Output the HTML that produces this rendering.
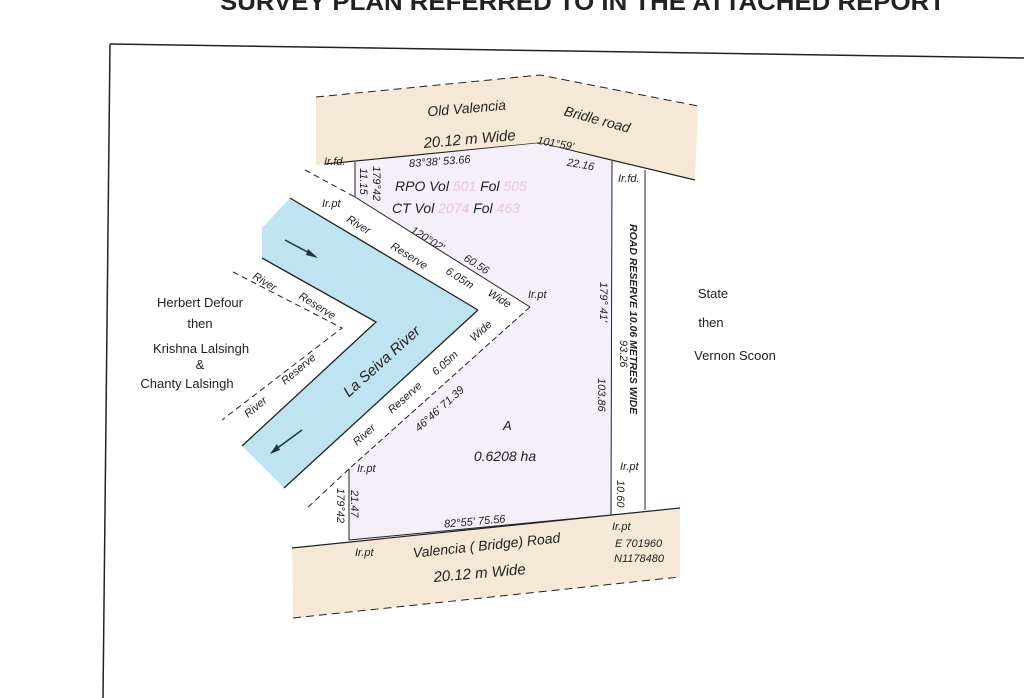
<!DOCTYPE html>
<html><head><meta charset="utf-8"><style>
html,body{margin:0;padding:0;background:#fff;}
svg{display:block;}
text{font-family:"Liberation Sans",sans-serif;font-style:italic;fill:#222;}
text.n{font-style:normal;}
</style></head><body>
<svg width="1024" height="698" viewBox="0 0 1024 698" xmlns="http://www.w3.org/2000/svg">
<rect width="1024" height="698" fill="#fff"/>
<text class="n" x="220" y="10" font-size="24" font-weight="bold" textLength="725" lengthAdjust="spacingAndGlyphs" fill="#111">SURVEY PLAN REFERRED TO IN THE ATTACHED REPORT</text>
<!-- frame -->
<line x1="110" y1="44" x2="1024" y2="58" stroke="#222" stroke-width="1.5"/>
<line x1="110" y1="44" x2="103" y2="698" stroke="#222" stroke-width="1.5"/>

<!-- top road -->
<polygon points="316,97 540,75 698,106 695,180 540,143 316,165" fill="#f6e8d6"/>
<polyline points="316,97 540,75 698,106" fill="none" stroke="#222" stroke-dasharray="8,5"/>
<polyline points="325,164 540,143 695,180" fill="none" stroke="#222" stroke-width="1.2"/>
<!-- bottom road -->
<polygon points="292,548 680,508 680,577 293,618" fill="#f6e8d6"/>
<line x1="292" y1="548" x2="680" y2="508" stroke="#222" stroke-width="1.2"/>
<line x1="293" y1="618" x2="680" y2="577" stroke="#222" stroke-dasharray="8,5"/>

<!-- parcel -->
<polygon points="355,162 540,143 612,161 611,515 349,540 349,469 530,307 355,197" fill="#f4eff8"/>
<polyline points="355,162 355,197" stroke="#222" fill="none"/>
<line x1="612" y1="161" x2="611" y2="515" stroke="#222"/>
<line x1="349" y1="469" x2="349" y2="540" stroke="#222"/>
<line x1="349" y1="540" x2="611" y2="515" stroke="#222"/>
<line x1="645" y1="170" x2="645" y2="510" stroke="#222"/>

<!-- river -->
<polygon points="290,198 478,310 284,488 242,446 376,322 262,258 262,228" fill="#bfe3f0"/>
<line x1="290" y1="198" x2="478" y2="310" stroke="#222" stroke-width="1.3"/>
<polyline points="262,258 376,322 242,446" fill="none" stroke="#222" stroke-width="1.3"/>
<line x1="478" y1="310" x2="284" y2="488" stroke="#222" stroke-width="1.3"/>
<line x1="285" y1="240" x2="315" y2="256" stroke="#234" stroke-width="1.5"/>
<polygon points="318,258 308,249 306,255" fill="#234"/>
<line x1="302" y1="430" x2="272" y2="452" stroke="#234" stroke-width="1.5"/>
<polygon points="270,454 277,444 280,450" fill="#234"/>
<!-- reserve lines -->
<line x1="305" y1="170" x2="355" y2="197" stroke="#222" stroke-dasharray="6,4"/>
<line x1="355" y1="197" x2="530" y2="307" stroke="#222"/>
<line x1="530" y1="307" x2="349" y2="469" stroke="#222" stroke-dasharray="6,3"/>
<line x1="349" y1="469" x2="305" y2="510" stroke="#222" stroke-dasharray="6,4"/>
<polyline points="233,272 342,328 222,420" fill="none" stroke="#222" stroke-dasharray="6,4"/>

<g font-size="13">
<text class="n" x="200" y="307" text-anchor="middle">Herbert Defour</text>
<text class="n" x="200" y="328" text-anchor="middle">then</text>
<text class="n" x="201" y="353" text-anchor="middle">Krishna Lalsingh</text>
<text class="n" x="200" y="369" text-anchor="middle">&amp;</text>
<text class="n" x="187" y="388" text-anchor="middle">Chanty Lalsingh</text>
<text class="n" x="713" y="298" text-anchor="middle">State</text>
<text class="n" x="711" y="327" text-anchor="middle">then</text>
<text class="n" x="735" y="360" text-anchor="middle">Vernon Scoon</text>

<text transform="translate(467,113) rotate(-5)" text-anchor="middle" font-size="14">Old Valencia</text>
<text transform="translate(470,144) rotate(-5)" text-anchor="middle" font-size="15">20.12 m Wide</text>
<text transform="translate(596,124) rotate(15)" text-anchor="middle" font-size="14">Bridle road</text>
<text transform="translate(487,550) rotate(-6)" text-anchor="middle" font-size="14">Valencia ( Bridge) Road</text>
<text transform="translate(480,578) rotate(-5)" text-anchor="middle" font-size="15">20.12 m Wide</text>
<text x="395" y="191" font-size="14">RPO Vol <tspan fill="#e8c8d4">501</tspan> Fol <tspan fill="#e8c8d4">505</tspan></text>
<text x="392" y="213" font-size="14">CT  Vol <tspan fill="#e8c8d4">2074</tspan> Fol <tspan fill="#e8c8d4">463</tspan></text>
<text x="503" y="430">A</text>
<text x="505" y="461" text-anchor="middle" font-size="14">0.6208 ha</text>
<text transform="translate(385,365) rotate(-42)" text-anchor="middle" font-size="15">La Seiva River</text>
</g>
<g font-size="11">
<text transform="translate(555,147) rotate(10)" text-anchor="middle">101°59'</text>
<text transform="translate(580,168) rotate(10)" text-anchor="middle">22.16</text>
<text transform="translate(440,165) rotate(-4)" text-anchor="middle">83°38'   53.66</text>
<text x="324" y="165">Ir.fd.</text>
<text transform="translate(373,166) rotate(90)">179°42</text>
<text transform="translate(360,168) rotate(90)">11.15</text>
<text x="322" y="207">Ir.pt</text>
<text transform="translate(346,221) rotate(32)">River</text>
<text transform="translate(390,248) rotate(32)">Reserve</text>
<text transform="translate(445,273) rotate(32)">6.05m</text>
<text transform="translate(487,295) rotate(32)">Wide</text>
<text transform="translate(410,232) rotate(32)">120°02'</text>
<text transform="translate(463,260) rotate(32)">60.56</text>
<text x="528" y="298">Ir.pt</text>
<text x="618" y="182">Ir.fd.</text>
<text transform="translate(630,224) rotate(90)" font-weight="bold" font-size="10.5">ROAD RESERVE  10.06 METRES WIDE</text>
<text transform="translate(600,282) rotate(90)">179° 41'</text>
<text transform="translate(620,340) rotate(90)">93.26</text>
<text transform="translate(598,378) rotate(90)">103.86</text>
<text x="620" y="470">Ir.pt</text>
<text transform="translate(617,480) rotate(90)">10.60</text>
<text transform="translate(357,446) rotate(-42)">River</text>
<text transform="translate(392,414) rotate(-42)">Reserve</text>
<text transform="translate(436,376) rotate(-42)">6.05m</text>
<text transform="translate(474,342) rotate(-42)">Wide</text>
<text transform="translate(419,432) rotate(-42)">46°46'   71.39</text>
<text x="357" y="472">Ir.pt</text>
<text transform="translate(351,490) rotate(90)">21.47</text>
<text transform="translate(337,488) rotate(90)">179°42</text>
<text transform="translate(475,525) rotate(-5)" text-anchor="middle">82°55'   75.56</text>
<text x="355" y="556">Ir.pt</text>
<text x="612" y="530">Ir.pt</text>
<text x="615" y="547">E 701960</text>
<text x="614" y="562">N1178480</text>
<text transform="translate(252,278) rotate(32)">River</text>
<text transform="translate(298,298) rotate(32)">Reserve</text>
<text transform="translate(285,385) rotate(-40)">Reserve</text>
<text transform="translate(248,418) rotate(-40)">River</text>
</g>
</svg>
</body></html>
